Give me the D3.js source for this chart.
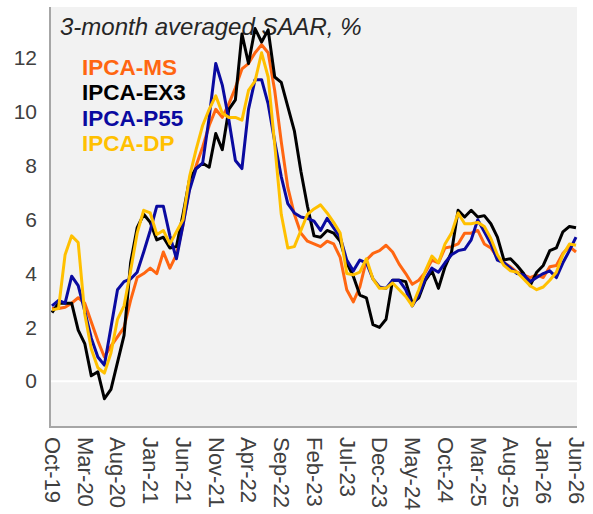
<!DOCTYPE html>
<html>
<head>
<meta charset="utf-8">
<script src="https://cdn.jsdelivr.net/npm/d3@7"></script>
<style>
  body { margin: 0; background: #fff; }
  svg { display: block; font-family: "Liberation Sans", Arial, sans-serif; }
</style>
</head>
<body>
<svg width="593" height="514"></svg>
<script>
const d3 = window.d3

// Monthly, Oct-19 .. Jun-26
const firstMonth = new Date(2019, 9, 1)
const monthCount = 81
const tickLabels = ['Oct-19', 'Mar-20', 'Aug-20', 'Jan-21', 'Jun-21', 'Nov-21', 'Apr-22',
  'Sep-22', 'Feb-23', 'Jul-23', 'Dec-23', 'May-24', 'Oct-24', 'Mar-25', 'Aug-25',
  'Jan-26', 'Jun-26']
const yTicks = [0, 2, 4, 6, 8, 10, 12]

const ipcaMS = [2.7, 2.7, 2.75, 2.9, 3.1, 2.9, 2.2, 1.5, 0.9, 1.3,
  1.65, 2.0, 3.0, 3.85, 4.0, 4.2, 4.0, 4.8, 4.2, 4.7,
  5.8, 7.2, 8.0, 8.7, 9.5, 10.1, 9.8, 10.3, 10.9, 11.6,
  11.8, 12.2, 12.5, 12.2, 10.8, 8.9, 7.2, 6.2, 5.5, 5.2,
  5.1, 5.0, 5.2, 5.1, 4.6, 3.4, 2.95, 3.5, 4.5, 4.75,
  4.85, 5.05, 4.8, 4.35, 4.0, 3.6, 3.75, 4.05, 4.5, 4.4,
  4.95, 5.0, 5.1, 5.5, 5.5, 5.6, 5.1, 4.95, 4.6, 4.4,
  4.25, 4.05, 3.95, 3.85, 3.95, 3.85, 4.25, 4.3, 4.75, 5.0,
  4.8]
const ipcaEX3 = [2.55, 2.9, 2.9, 2.9, 1.9, 1.4, 0.2, 0.35, -0.65, -0.3,
  0.7, 1.7, 4.4, 5.7, 6.2, 5.9, 5.25, 5.35, 4.95, 5.0,
  6.2, 7.5, 7.9, 8.1, 7.95, 9.2, 8.6, 10.1, 10.45, 12.9,
  11.8, 13.1, 12.6, 13.05, 11.3, 11.1, 10.2, 9.3, 7.8, 6.5,
  5.4, 5.35, 5.6, 5.5, 5.2, 4.4, 3.9, 3.2, 3.1, 2.1,
  2.0, 2.3, 3.75, 3.75, 3.7, 2.9, 3.1, 3.75, 4.1, 3.45,
  4.25, 4.8, 6.35, 6.1, 6.35, 6.1, 6.15, 5.85, 5.35, 4.5,
  4.55, 4.3, 4.0, 3.55, 4.05, 4.3, 4.85, 4.95, 5.55, 5.75,
  5.7]
const ipcaP55 = [2.8, 3.0, 2.9, 3.9, 3.55, 2.6, 1.6, 0.9, 0.6, 2.0,
  3.4, 3.7, 3.8, 4.05, 4.8, 5.6, 6.5, 6.5, 5.4, 4.55,
  5.8, 7.1, 7.9, 8.1, 9.8, 11.8, 11.0, 9.7, 8.2, 7.9,
  10.1, 11.2, 11.2, 10.3, 8.9, 7.6, 6.6, 6.25, 6.1, 6.05,
  5.95, 5.6, 6.05, 5.7, 5.35, 4.5, 4.1, 4.5, 4.4, 3.8,
  3.5, 3.45, 3.75, 3.75, 3.4, 2.8, 3.2, 3.8, 4.2, 4.05,
  4.4, 4.7, 4.85, 4.9, 5.25, 6.0, 5.55, 5.1, 4.5, 4.4,
  4.2, 4.0, 3.95, 3.7, 3.85, 4.0, 4.1, 3.85, 4.4, 4.85,
  5.35]
const ipcaDP = [2.65, 2.7, 4.7, 5.4, 5.15, 2.5, 1.2, 0.5, 0.3, 1.05,
  2.3, 2.8, 4.1, 5.5, 6.35, 6.25, 5.45, 5.6, 5.1, 5.55,
  6.0, 7.6, 8.6, 9.5, 10.1, 10.6, 9.95, 9.8, 9.8, 9.7,
  10.8, 11.15, 12.2, 11.3, 8.8, 6.2, 4.95, 5.0, 5.6, 6.2,
  6.4, 6.55, 6.25, 5.9, 5.5, 4.0, 3.95, 4.05, 4.55, 3.8,
  3.45, 3.45, 3.65, 3.4, 3.15, 2.8, 3.4, 4.1, 4.65, 4.4,
  5.1, 5.5, 6.25, 5.85, 5.85, 5.9, 5.75, 5.3, 4.7, 4.3,
  4.1, 4.05, 3.8, 3.55, 3.4, 3.5, 3.75, 4.05, 4.7, 5.1,
  5.05]

const seriesNames = ['IPCA-MS', 'IPCA-EX3', 'IPCA-P55', 'IPCA-DP']
const seriesColors = ['#ff6611', '#000000', '#0a0aa0', '#ffc000']
const seriesValues = [ipcaMS, ipcaEX3, ipcaP55, ipcaDP]

const fmt = d3.timeFormat('%b-%y')
const months = d3.range(monthCount).map(i => fmt(d3.timeMonth.offset(firstMonth, i)))

const svg = d3.select('svg')
const plot = { left: 50, right: 577, top: 7, bottom: 427 }

const x = d3.scalePoint().domain(months).range([52, 576])
const y = d3.scaleLinear().domain([-1.7, 13.9]).range([plot.bottom, plot.top])

// plot background
svg.append('rect')
  .attr('x', plot.left)
  .attr('y', plot.top)
  .attr('width', plot.right - plot.left)
  .attr('height', plot.bottom - plot.top)
  .attr('fill', '#f2f2f2')

// zero line
svg.append('line')
  .attr('x1', plot.left)
  .attr('x2', plot.right)
  .attr('y1', y(0))
  .attr('y2', y(0))
  .attr('stroke', '#fff')
  .attr('stroke-width', 2)

// title inside plot
svg.append('text')
  .attr('x', 60)
  .attr('y', 35)
  .attr('font-size', 24)
  .attr('font-style', 'italic')
  .attr('fill', '#262626')
  .text('3-month averaged SAAR, %')

// lines
const line = d3.line()
  .x((d, i) => x(months[i]))
  .y(d => y(d))

svg.append('g')
  .selectAll('path')
  .data(seriesValues)
  .join('path')
  .attr('fill', 'none')
  .attr('stroke', (d, i) => seriesColors[i])
  .attr('stroke-width', 3)
  .attr('stroke-linejoin', 'round')
  .attr('d', d => line(d))

// legend
svg.append('g')
  .selectAll('text')
  .data(seriesNames)
  .join('text')
  .attr('x', 82)
  .attr('y', (d, i) => 75 + i * 25.3)
  .attr('font-size', 22.5)
  .attr('font-weight', 'bold')
  .attr('fill', (d, i) => seriesColors[i])
  .text(d => d)

// y axis
const yAxis = svg.append('g')
  .attr('transform', `translate(${plot.left},0)`)
  .call(d3.axisLeft(y).tickValues(yTicks).tickSize(0).tickPadding(13))
yAxis.select('.domain').remove()
yAxis.selectAll('text')
  .attr('font-size', 21)
  .attr('fill', '#404040')
  .attr('font-family', '"Liberation Sans", Arial, sans-serif')

// x axis
const xAxis = svg.append('g')
  .attr('transform', `translate(0,${plot.bottom})`)
  .call(d3.axisBottom(x).tickValues(tickLabels).tickSize(0))
xAxis.select('.domain').remove()
xAxis.selectAll('text')
  .attr('font-size', 22)
  .attr('fill', '#404040')
  .attr('font-family', '"Liberation Sans", Arial, sans-serif')
  .attr('text-anchor', 'start')
  .attr('transform', 'rotate(90)')
  .attr('x', 10)
  .attr('y', 0)
  .attr('dy', '0.35em')

// axis lines
svg.append('path')
  .attr('d', `M${plot.left},${plot.top}V${plot.bottom}H${plot.right}`)
  .attr('fill', 'none')
  .attr('stroke', '#a6a6a6')
  .attr('stroke-width', 2)
</script>
</body>
</html>
